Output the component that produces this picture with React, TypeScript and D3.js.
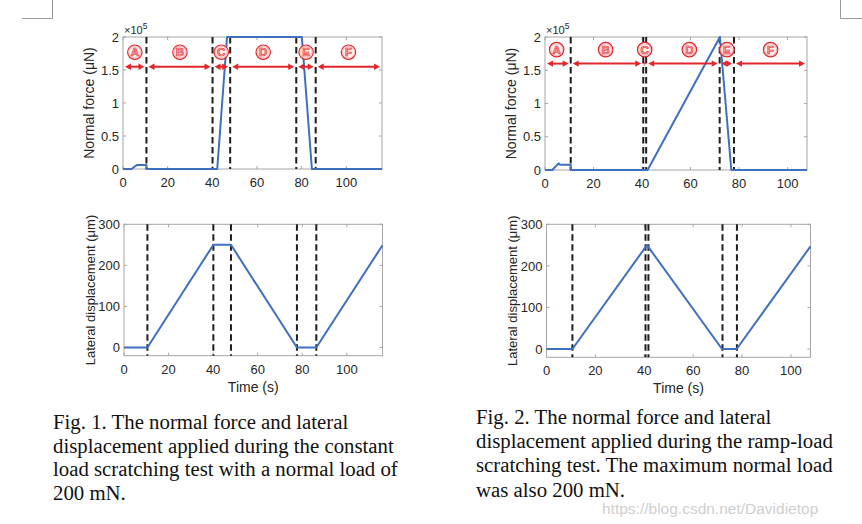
import React from "react";
import * as d3 from "d3";

// ---------- DATA ----------
const xTicks = [0, 20, 40, 60, 80, 100];
const forceTicks = [0, 50000, 100000, 150000, 200000];
const forceTickLabels = ["0", "0.5", "1", "1.5", "2"];
const dispTicks = [0, 100, 200, 300];
const dispTickLabels = ["0", "100", "200", "300"];
const phaseLetters = ["A", "B", "C", "D", "E", "F"];

// Fig. 1 (constant load)
const fig1ForceTime = [0, 3.8, 6.2, 10.5, 10.5, 42.2, 46.6, 80.1, 84.6, 116];
const fig1Force = [0, 0, 6000, 6000, 0, 0, 200000, 200000, 0, 0];
const fig1DispTime = [0, 10.5, 40.1, 48.0, 77.6, 86.3, 116];
const fig1Disp = [0, 0, 250, 250, 0, 0, 249];
const fig1Dashes = [10.5, 40.1, 48.0, 77.6, 86.3];
const fig1LabelX = [5.3, 25.5, 44, 62.8, 82, 101];
const fig1ArrowY = 155000;
const fig1LabelY = 177000;

// Fig. 2 (ramp load)
const fig2ForceTime = [0, 3.0, 5.6, 6.1, 10.6, 10.6, 42.3, 72.1, 76.8, 108];
const fig2Force = [0, 0, 10000, 8000, 8000, 0, 0, 200000, 0, 0];
const fig2DispTime = [0, 10.6, 41.1, 71.8, 77.8, 108];
const fig2Disp = [0, 0, 250, 0, 0, 247];
const fig2Dashes = [10.6, 40.5, 41.7, 72.0, 77.9];
const fig2LabelX = [4.8, 25, 41.1, 59.5, 75, 93];
const fig2ArrowY = 160000;
const fig2LabelY = 181000;

const caption1 = [
  "Fig. 1. The normal force and lateral",
  "displacement applied during the constant",
  "load scratching test with a normal load of",
  "200 mN.",
];
const caption2 = [
  "Fig. 2. The normal force and lateral",
  "displacement applied during the ramp-load",
  "scratching test. The maximum normal load",
  "was also 200 mN.",
];
const watermark = "https://blog.csdn.net/Davidietop";

// ---------- STYLE ----------
const BLUE = "#3f6fbf";
const RED = "#e3262b";
const BOX = "#a6a6a6";
const TXT = "#262626";
const SANS = "'Liberation Sans', Arial, sans-serif";
const SERIF = "'Liberation Serif', 'Times New Roman', serif";

type Box = { left: number; right: number; top: number; bottom: number };

function Axes({
  box, xMax, yDomain, yTicks, yTickLabels, yLabel, yLabelSize, xLabel, times, values, dashes,
  arrows,
}: {
  box: Box; xMax: number; yDomain: [number, number]; yTicks: number[]; yTickLabels: string[];
  yLabel: string; yLabelSize: number; xLabel?: string; times: number[]; values: number[]; dashes: number[];
  arrows?: { y: number; labelY: number; labelX: number[]; power: boolean };
}) {
  const x = d3.scaleLinear().domain([0, xMax]).range([box.left, box.right]);
  const y = d3.scaleLinear().domain(yDomain).range([box.bottom, box.top]);
  const pts = times.map((t, i) => [t, values[i]] as [number, number]);
  const line = d3.line<[number, number]>().x((d) => x(d[0])).y((d) => y(d[1]));
  const tl = 3;
  const segs: [number, number][] = [];
  if (arrows) {
    const b = [0, ...dashes, xMax];
    for (let i = 0; i < b.length - 1; i++) segs.push([b[i], b[i + 1]]);
  }
  return (
    <g>
      <rect x={box.left} y={box.top} width={box.right - box.left} height={box.bottom - box.top}
        fill="white" stroke={BOX} strokeWidth={1} />
      {xTicks.map((t) => (
        <g key={"xt" + t}>
          <line x1={x(t)} x2={x(t)} y1={box.bottom} y2={box.bottom - tl} stroke={BOX} />
          <line x1={x(t)} x2={x(t)} y1={box.top} y2={box.top + tl} stroke={BOX} />
          <text x={x(t)} y={box.bottom + 18} textAnchor="middle" fontFamily={SANS} fontSize={13} fill={TXT}>
            {t}
          </text>
        </g>
      ))}
      {yTicks.map((t, i) => (
        <g key={"yt" + t}>
          <line x1={box.left} x2={box.left + tl} y1={y(t)} y2={y(t)} stroke={BOX} />
          <line x1={box.right} x2={box.right - tl} y1={y(t)} y2={y(t)} stroke={BOX} />
          <text x={box.left - 4} y={y(t)} dy="0.36em" textAnchor="end" fontFamily={SANS} fontSize={13} fill={TXT}>
            {yTickLabels[i]}
          </text>
        </g>
      ))}
      {dashes.map((t, i) => (
        <line key={"d" + i} x1={x(t)} x2={x(t)} y1={box.top} y2={box.bottom} stroke="#1e1e1e"
          strokeWidth={2} strokeDasharray="6.5,3.5" />
      ))}
      <path d={line(pts) || ""} fill="none" stroke={BLUE} strokeWidth={2} strokeLinejoin="round" />
      {arrows &&
        segs.map(([a, b], i) => {
          const x1 = x(a) + 2;
          const x2 = x(b) - 2;
          const yy = y(arrows.y);
          const ah = Math.min(6, (x2 - x1) / 2);
          return (
            <g key={"a" + i}>
              <line x1={x1 + ah * 0.6} x2={x2 - ah * 0.6} y1={yy} y2={yy} stroke={RED} strokeWidth={2} />
              <path d={`M${x1},${yy} L${x1 + ah},${yy - 3.2} L${x1 + ah},${yy + 3.2} Z`} fill={RED} />
              <path d={`M${x2},${yy} L${x2 - ah},${yy - 3.2} L${x2 - ah},${yy + 3.2} Z`} fill={RED} />
            </g>
          );
        })}
      {arrows &&
        arrows.labelX.map((t, i) => {
          const cx = x(t);
          const cy = y(arrows.labelY);
          return (
            <g key={"l" + i}>
              <circle cx={cx} cy={cy} r={7.2} fill="#fdeeee" stroke={RED} strokeWidth={1.2} />
              <circle cx={cx} cy={cy} r={5.9} fill="none" stroke="#f29a9a" strokeWidth={0.6} />
              <text x={cx} y={cy} dy="0.37em" textAnchor="middle" fontFamily={SANS} fontSize={11.5}
                fontWeight="bold" fill="#f6a8a8" stroke={RED} strokeWidth={0.6}>
                {phaseLetters[i]}
              </text>
            </g>
          );
        })}
      {arrows && arrows.power && (
        <text x={box.left + 1} y={box.top - 3} fontFamily={SANS} fontSize={11} fill={TXT}>
          ×10
          <tspan fontSize={8.5} dy={-5}>5</tspan>
        </text>
      )}
      <text transform={`translate(${box.left - 34},${(box.top + box.bottom) / 2}) rotate(-90)`}
        textAnchor="middle" dy="0.36em" fontFamily={SANS} fontSize={yLabelSize} fill={TXT}>
        {yLabel}
      </text>
      {xLabel && (
        <text x={(box.left + box.right) / 2} y={box.bottom + 36} textAnchor="middle" fontFamily={SANS}
          fontSize={14} fill={TXT}>
          {xLabel}
        </text>
      )}
    </g>
  );
}

export default function App() {
  const f1Force: Box = { left: 123, right: 382, top: 37, bottom: 169 };
  const f1Disp: Box = { left: 124, right: 382.5, top: 224.3, bottom: 355.7 };
  const f2Force: Box = { left: 545, right: 807, top: 37, bottom: 170 };
  const f2Disp: Box = { left: 546.5, right: 810.5, top: 224.3, bottom: 357.3 };
  return (
    <svg width={862} height={524} style={{ position: "absolute", left: 0, top: 0, background: "white" }}>
      <rect x={0} y={0} width={862} height={524} fill="white" />
      <path d="M22,18.5 H52.5 V0" fill="none" stroke="#9a9a9a" strokeWidth={1} />
      <path d="M840.5,0 V18.5 H862" fill="none" stroke="#9a9a9a" strokeWidth={1} />

      <Axes box={f1Force} xMax={116} yDomain={[0, 200000]} yTicks={forceTicks} yTickLabels={forceTickLabels}
        yLabel="Normal force (μN)" yLabelSize={14} times={fig1ForceTime} values={fig1Force} dashes={fig1Dashes}
        arrows={{ y: fig1ArrowY, labelY: fig1LabelY, labelX: fig1LabelX, power: true }} />
      <Axes box={f1Disp} xMax={116} yDomain={[-20, 300]} yTicks={dispTicks} yTickLabels={dispTickLabels}
        yLabel="Lateral displacement (μm)" yLabelSize={13} xLabel="Time (s)" times={fig1DispTime}
        values={fig1Disp} dashes={fig1Dashes} />
      <Axes box={f2Force} xMax={108} yDomain={[0, 200000]} yTicks={forceTicks} yTickLabels={forceTickLabels}
        yLabel="Normal force (μN)" yLabelSize={14} times={fig2ForceTime} values={fig2Force} dashes={fig2Dashes}
        arrows={{ y: fig2ArrowY, labelY: fig2LabelY, labelX: fig2LabelX, power: true }} />
      <Axes box={f2Disp} xMax={108} yDomain={[-20, 300]} yTicks={dispTicks} yTickLabels={dispTickLabels}
        yLabel="Lateral displacement (μm)" yLabelSize={13} xLabel="Time (s)" times={fig2DispTime}
        values={fig2Disp} dashes={fig2Dashes} />

      {caption1.map((s, i) => (
        <text key={"c1" + i} x={53} y={429 + i * 23.7} fontFamily={SERIF} fontSize={20.8} fill="#111">
          {s}
        </text>
      ))}
      {caption2.map((s, i) => (
        <text key={"c2" + i} x={476} y={423.5 + i * 24.4} fontFamily={SERIF} fontSize={20.8} fill="#111">
          {s}
        </text>
      ))}
      <text x={602} y={514} fontFamily={SANS} fontSize={15.5} fill="#cfcfcf">
        {watermark}
      </text>
    </svg>
  );
}
